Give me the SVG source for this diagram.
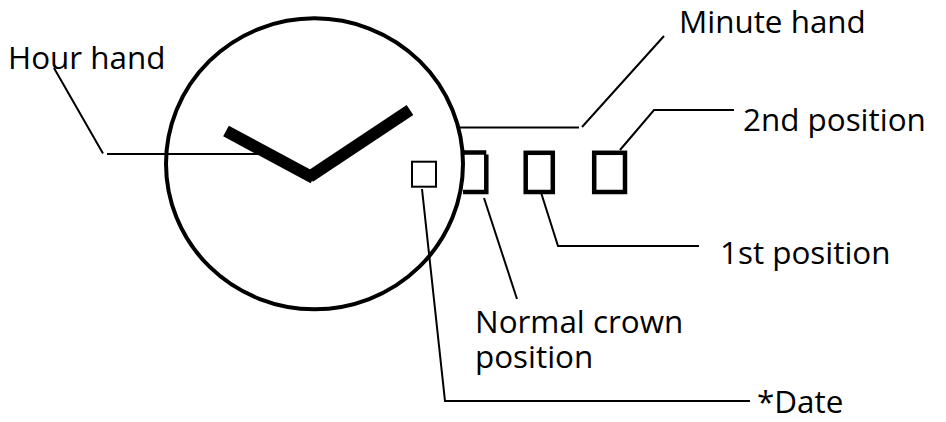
<svg xmlns="http://www.w3.org/2000/svg" width="946" height="422" viewBox="0 0 946 422">
<style>
text{font-family:"Open Sans","Noto Sans",sans-serif;font-size:31.400px;fill:#000}
.l{fill:none;stroke:#000;stroke-width:2}
.b{fill:none;stroke:#000;stroke-width:4.500}
.h{fill:none;stroke:#000;stroke-width:12}
</style>
<rect width="946" height="422" fill="#fff"/>
<g id="dial"><ellipse cx="314.500" cy="163.800" rx="148.500" ry="145.500" fill="none" stroke="#000" stroke-width="4"/></g>
<g id="hands"><path class="h" d="M226 131L313.500 178"/><path class="h" d="M410 110L309.600 176.700"/></g>
<g id="date-window"><rect x="412" y="161.700" width="24" height="25" fill="#fff" stroke="#000" stroke-width="2"/></g>
<g id="crown-normal"><path class="b" d="M463 152.500H486.300M486.300 154.500V192H463"/></g>
<g id="crown-1st"><rect x="525.700" y="152.800" width="27.100" height="39.200" class="b"/></g>
<g id="crown-2nd"><rect x="594.200" y="152.800" width="30.800" height="39.200" class="b"/></g>
<g id="connectors">
<path class="l" d="M54 68L103 153.500M107 154H258"/>
<path class="l" d="M664 36L582 127M579 127.500H460"/>
<path class="l" d="M620 150L654 110H734"/>
<path class="l" d="M541.500 194L558 246H699"/>
<path class="l" d="M484 198L517 299"/>
<path class="l" d="M422 189L445 401H750"/>
</g>
<g id="labels">
<text x="8" y="69">Hour hand</text>
<text x="679" y="33">Minute hand</text>
<text x="743" y="131">2nd position</text>
<text x="720" y="264">1st position</text>
<text x="475" y="333">Normal crown</text>
<text x="475" y="368">position</text>
<text x="757" y="413">*Date</text>
</g>
</svg>
